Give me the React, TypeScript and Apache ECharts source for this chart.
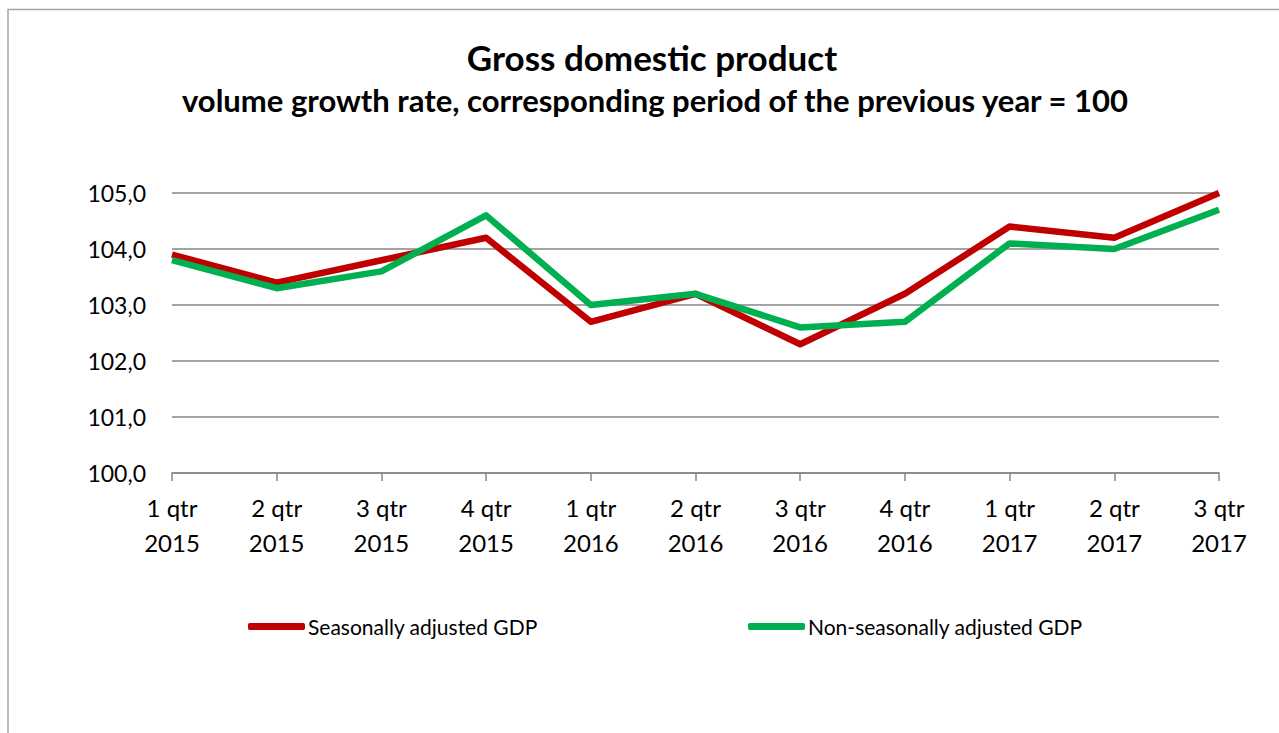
import React, { useEffect, useRef } from 'react';
import * as echarts from 'echarts';

const categories = [
  '1 qtr\n2015', '2 qtr\n2015', '3 qtr\n2015', '4 qtr\n2015',
  '1 qtr\n2016', '2 qtr\n2016', '3 qtr\n2016', '4 qtr\n2016',
  '1 qtr\n2017', '2 qtr\n2017', '3 qtr\n2017',
];
const seasonallyAdjusted = [103.9, 103.4, 103.8, 104.2, 102.7, 103.2, 102.3, 103.2, 104.4, 104.2, 105.0];
const nonSeasonallyAdjusted = [103.8, 103.3, 103.6, 104.6, 103.0, 103.2, 102.6, 102.7, 104.1, 104.0, 104.7];
const yMin = 100;
const yMax = 105;
const yInterval = 1;

const seriesNames = ['Seasonally adjusted GDP', 'Non-seasonally adjusted GDP'];
const titleText = 'Gross domestic product';
const subtitleText = 'volume growth rate, corresponding period of the previous year = 100';

const FONT = 'Lato, "Open Sans", sans-serif';
const RED = '#C00000';
const GREEN = '#00B050';

export default function App() {
  const ref = useRef<HTMLDivElement>(null);
  useEffect(() => {
    if (!ref.current) return;
    const chart = echarts.init(ref.current, undefined, { renderer: 'svg' });
    const legendBase = {
      orient: 'horizontal',
      top: 616,
      itemWidth: 57,
      itemHeight: 7,
      itemGap: 0,
      icon: 'roundRect',
      textStyle: { fontFamily: FONT, fontSize: 21, color: '#000', padding: [0, 0, 0, -2] },
      selectedMode: false,
      padding: 0,
    };
    chart.setOption({
      animation: false,
      backgroundColor: '#fff',
      graphic: [
        {
          type: 'polyline',
          shape: { points: [[8, 740], [8, 9.5], [1290, 9.5]] },
          style: { stroke: '#a6a6a6', lineWidth: 1.5, fill: 'none' },
          silent: true,
        },
        {
          type: 'text',
          x: 652,
          y: 57,
          style: {
            text: titleText,
            align: 'center',
            verticalAlign: 'middle',
            fontFamily: FONT,
            fontWeight: 'bold',
            fontSize: 35,
            fill: '#000',
          },
        },
        {
          type: 'text',
          x: 655,
          y: 100,
          style: {
            text: subtitleText,
            align: 'center',
            verticalAlign: 'middle',
            fontFamily: FONT,
            fontWeight: 'bold',
            fontSize: 31,
            fill: '#000',
          },
        },
      ],
      legend: [
        { ...legendBase, left: 248, data: [seriesNames[0]] },
        { ...legendBase, left: 748, data: [seriesNames[1]] },
      ],
      grid: { left: 172, right: 60, top: 193, bottom: 260, containLabel: false },
      xAxis: {
        type: 'category',
        data: categories,
        boundaryGap: false,
        axisLine: { show: true, lineStyle: { color: '#868686', width: 1.5 } },
        axisTick: { show: true, length: 8, lineStyle: { color: '#868686', width: 1.5 } },
        axisLabel: {
          fontFamily: FONT,
          fontSize: 24,
          color: '#000',
          lineHeight: 35,
          margin: 17,
          interval: 0,
        },
        splitLine: { show: false },
      },
      yAxis: {
        type: 'value',
        min: yMin,
        max: yMax,
        interval: yInterval,
        axisLine: { show: false },
        axisTick: { show: false },
        axisLabel: {
          fontFamily: FONT,
          fontSize: 23,
          color: '#000',
          margin: 26,
          formatter: (v: number) => v.toFixed(1).replace('.', ','),
        },
        splitLine: { show: true, lineStyle: { color: '#868686', width: 1.5 } },
      },
      series: [
        {
          name: seriesNames[0],
          type: 'line',
          data: seasonallyAdjusted,
          showSymbol: false,
          symbol: 'none',
          clip: false,
          itemStyle: { color: RED },
          lineStyle: { color: RED, width: 6.5, join: 'round' },
          z: 2,
        },
        {
          name: seriesNames[1],
          type: 'line',
          data: nonSeasonallyAdjusted,
          showSymbol: false,
          symbol: 'none',
          clip: false,
          itemStyle: { color: GREEN },
          lineStyle: { color: GREEN, width: 6.5, join: 'round' },
          z: 3,
        },
      ],
    });
    return () => chart.dispose();
  }, []);
  return (
    <div
      ref={ref}
      style={{ position: 'fixed', left: 0, top: 0, width: 1279, height: 733 }}
    />
  );
}
